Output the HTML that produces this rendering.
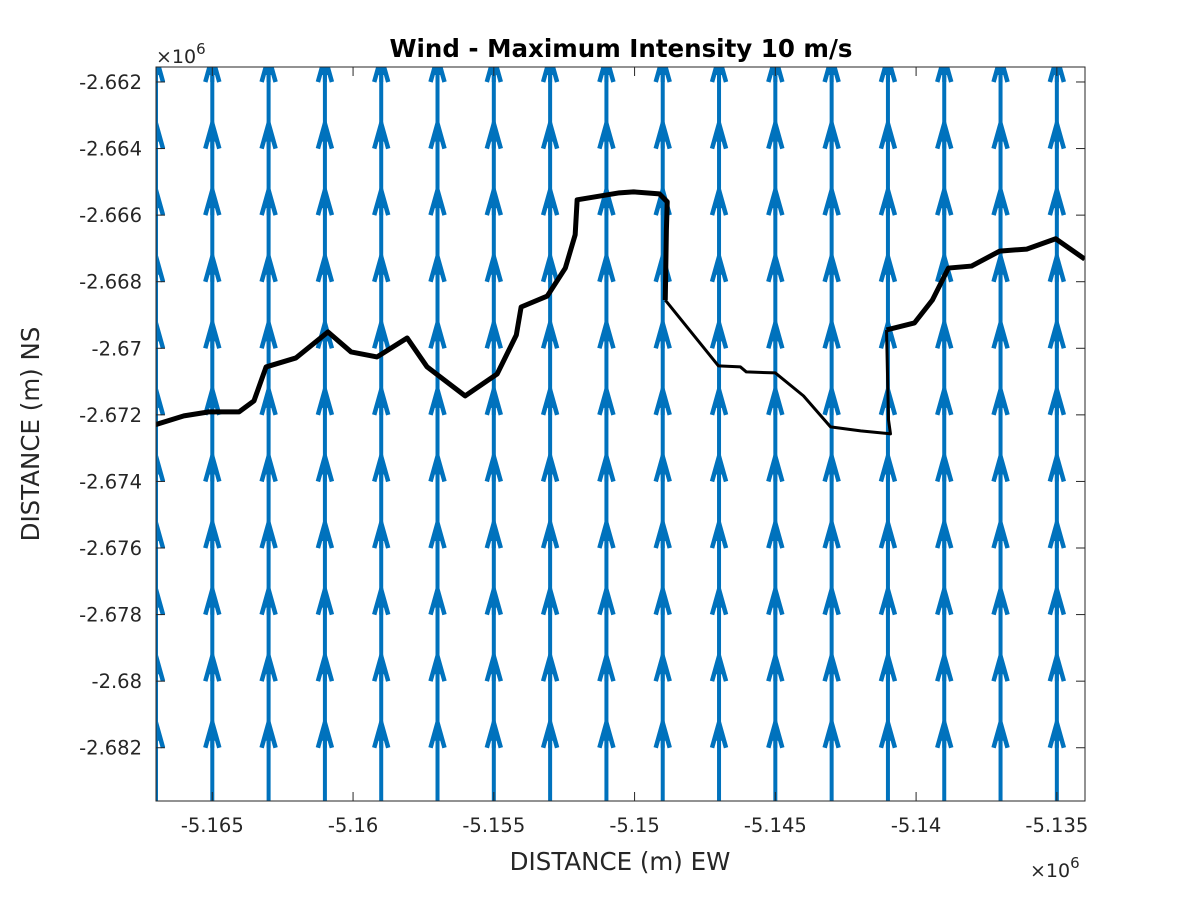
<!DOCTYPE html>
<html><head><meta charset="utf-8"><style>
body{margin:0;background:#fff}
svg text{font-family:"DejaVu Sans","Liberation Sans",sans-serif;fill:#262626}
</style></head><body>
<svg id="chart" xmlns="http://www.w3.org/2000/svg" width="1200" height="900" viewBox="0 0 1200 900">
<rect width="1200" height="900" fill="#fff"/>
<defs><clipPath id="pc"><rect x="156" y="67" width="929" height="734"/></clipPath></defs>
<g id="quiver" clip-path="url(#pc)"></g>
<g id="coast" clip-path="url(#pc)"></g>
<rect x="156" y="67" width="929" height="734" fill="none" stroke="#262626" stroke-width="1"/>
<g id="axes"></g>
<text x="621" y="57" text-anchor="middle" font-size="24.5" font-weight="bold" style="fill:#000">Wind - Maximum Intensity 10 m/s</text>
<text x="620" y="870" text-anchor="middle" font-size="24.5">DISTANCE (m) EW</text>
<text transform="translate(39,434) rotate(-90)" text-anchor="middle" font-size="24.5">DISTANCE (m) NS</text>
<text x="156" y="63" font-size="19">×10<tspan dy="-9" font-size="15">6</tspan></text>
<text x="1030" y="877" font-size="19">×10<tspan dy="-9" font-size="15">6</tspan></text>
</svg>
<script>
const xTicks=[-5.165,-5.16,-5.155,-5.15,-5.145,-5.14,-5.135];
const xTickLabels=["-5.165","-5.16","-5.155","-5.15","-5.145","-5.14","-5.135"];
const yTicks=[-2.662,-2.664,-2.666,-2.668,-2.67,-2.672,-2.674,-2.676,-2.678,-2.68,-2.682];
const yTickLabels=["-2.662","-2.664","-2.666","-2.668","-2.67","-2.672","-2.674","-2.676","-2.678","-2.68","-2.682"];
const quiverX=[-5.167,-5.165,-5.163,-5.161,-5.159,-5.157,-5.155,-5.153,-5.151,-5.149,-5.147,-5.145,-5.143,-5.141,-5.139,-5.137,-5.135];
const quiverY=[-2.684,-2.682,-2.68,-2.678,-2.676,-2.674,-2.672,-2.67,-2.668,-2.666,-2.664,-2.662];
const windU=0;
const windV=10;
const coastThickX=[-5.16704,-5.16601,-5.16512,-5.16405,-5.16352,-5.16309,-5.16203,-5.16089,-5.16007,-5.15915,-5.15808,-5.15737,-5.15602,-5.15488,-5.15420,-5.15403,-5.15310,-5.15246,-5.15211,-5.15204,-5.15054,-5.15004,-5.14912,-5.14884,-5.14887,-5.14891];
const coastThickY=[-2.67230,-2.67203,-2.67191,-2.67191,-2.67158,-2.67056,-2.67029,-2.66951,-2.67011,-2.67026,-2.66969,-2.67056,-2.67143,-2.67077,-2.66960,-2.66876,-2.66843,-2.66759,-2.66659,-2.66554,-2.66533,-2.66530,-2.66536,-2.66560,-2.66644,-2.66855];
const coastThinX=[-5.14891,-5.14702,-5.14624,-5.14603,-5.14500,-5.14400,-5.14304,-5.14197,-5.14091,-5.14098,-5.14105];
const coastThinY=[-2.66855,-2.67053,-2.67056,-2.67071,-2.67074,-2.67143,-2.67236,-2.67248,-2.67257,-2.67215,-2.66945];
const coastEastX=[-5.14105,-5.14006,-5.13942,-5.13885,-5.13803,-5.13703,-5.13607,-5.13504,-5.13401];
const coastEastY=[-2.66945,-2.66924,-2.66855,-2.66759,-2.66753,-2.66708,-2.66702,-2.66671,-2.66732];

const X0=-5.167,X1=-5.134,Y0=-2.6836,Y1=-2.66155;
const sx=v=>156+(v-X0)/(X1-X0)*929;
const sy=v=>801-(v-Y0)/(Y1-Y0)*734;
const NS="http://www.w3.org/2000/svg";
function mk(tag,attrs,parent){const e=document.createElementNS(NS,tag);for(const k in attrs)e.setAttribute(k,attrs[k]);parent.appendChild(e);return e;}
const axes=document.getElementById('axes');
xTicks.forEach((t,i)=>{
 const x=sx(t);
 const a=mk('line',{x1:x,x2:x,y1:801,y2:792,stroke:'#262626','stroke-width':1},axes);
 
 
 const b=mk('line',{x1:x,x2:x,y1:67,y2:76,stroke:'#262626','stroke-width':1},axes);
 
 
 const tx=mk('text',{x:x,y:832,'text-anchor':'middle','font-size':19.5},axes);
 tx.textContent=xTickLabels[i];
 
 
});
yTicks.forEach((t,i)=>{
 const y=sy(t);
 const a=mk('line',{x1:156,x2:165,y1:y,y2:y,stroke:'#262626','stroke-width':1},axes);
 
 
 const b=mk('line',{x1:1085,x2:1076,y1:y,y2:y,stroke:'#262626','stroke-width':1},axes);
 
 
 const tx=mk('text',{x:142,y:y+7,'text-anchor':'end','font-size':19.5},axes);
 tx.textContent=yTickLabels[i];
 
 
});
const q=document.getElementById('quiver');
const scale=0.000275;
quiverX.forEach(xv=>{quiverY.forEach(yv=>{
 const x0=sx(xv),y0=sy(yv),x1=sx(xv+windU*scale),y1=sy(yv+windV*scale);
 const g=mk('g',{},q);
 
 
 mk('line',{x1:x0,y1:y0,x2:x1,y2:y1,stroke:'#0072BD','stroke-width':4},g);
 mk('polyline',{points:`${x1-7},${y1+25} ${x1},${y1} ${x1+7},${y1+25}`,fill:'none',stroke:'#0072BD','stroke-width':4.5,'stroke-linejoin':'miter'},g);
 mk('polygon',{points:`${x1-4},${y1+18} ${x1},${y1+4} ${x1+4},${y1+18}`,fill:'#0072BD'},g);
});});
const c=document.getElementById('coast');
function line(xs,ys,w,name){
 const p=mk('polyline',{points:xs.map((v,i)=>sx(v)+','+sy(ys[i])).join(' '),fill:'none',stroke:'#000','stroke-width':w,'stroke-linejoin':'round'},c);
 
 
}
line(coastThickX,coastThickY,5,'coastline-west');
line(coastThinX,coastThinY,3,'coastline-middle');
line(coastEastX,coastEastY,5,'coastline-east');
</script>
</body></html>
